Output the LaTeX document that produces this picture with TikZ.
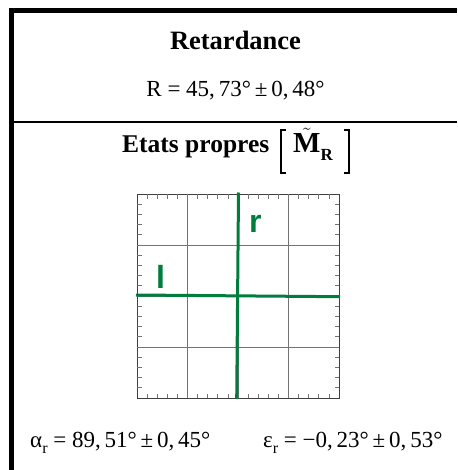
\documentclass[tikz,border=0pt]{standalone}
\usepackage{amsmath}
\usepackage{fontspec}
\setmainfont{Liberation Serif}
\newfontfamily\labelfont{Liberation Sans}
\usetikzlibrary{positioning}
\definecolor{eigengreen}{RGB}{0,125,60}
\newcommand{\subr}[1]{\raisebox{-0.3em}{\fontsize{16}{16}\selectfont #1}}

\begin{document}
\begin{tikzpicture}[x=1pt,y=-1pt,
  txt/.style={font=\fontsize{23}{26}\selectfont,inner sep=0pt},
  ttl/.style={font=\fontsize{26.5}{30}\selectfont\bfseries,inner sep=0pt},
  gridline/.style={black!55,line width=0.8pt},
  tick/.style={black!55,line width=0.8pt},
  eig/.style={eigengreen,line width=3pt},
  eiglabel/.style={eigengreen,font=\fontsize{32}{32}\selectfont\labelfont\bfseries,inner sep=0pt}]
  \useasboundingbox (0,0) rectangle (457,470);
  % frame
  \draw[line width=5pt] (11.5,470) -- (11.5,8);
  \draw[line width=4.5pt] (9,10.3) -- (457,10.3);
  \draw[line width=2pt] (14,122.5) -- (457,122.5);
  % retardance
  \node[ttl,anchor=base] (title) at (235.5,50) {Retardance};
  \node[txt,anchor=base] (retval) at (235.5,97) {R = 45,\,73°\,±\,0,\,48°};
  % eigenstates header
  \node[ttl,font=\fontsize{25.5}{30}\selectfont\bfseries,anchor=base west] (etats) at (122,153) {Etats propres};
  \node[anchor=base west,inner sep=0pt,font=\fontsize{29}{30}\selectfont\bfseries] (mr) at (293,153)
    {$\tilde{\text{M}}$\raisebox{-0.25em}{\fontsize{17}{17}\selectfont R}};
  \draw[line width=1.1pt] (286,130) -- (281,130) -- (281,173) -- (286,173);
  \draw[line width=1.1pt] (344,130) -- (349,130) -- (349,173) -- (344,173);
  % grid
  \foreach \i in {1,2,3} {
    \draw[gridline] (137+50.5*\i,194) -- (137+50.5*\i,398);
    \draw[gridline] (137,194+51*\i) -- (339,194+51*\i);
  }
  \draw[black!75,line width=1pt] (137,194) rectangle (339,398);
  % ticks
  \foreach \k in {1,...,19} {
    \draw[tick] (137+10.1*\k,194) -- ++(0,4.5);
    \draw[tick] (137+10.1*\k,398) -- ++(0,-4.5);
    \draw[tick] (137,194+10.2*\k) -- ++(4.5,0);
    \draw[tick] (339,194+10.2*\k) -- ++(-4.5,0);
  }
  % eigen axes
  \draw[eig] (136,295) -- (340,296.7);
  \draw[eig] (238.5,192.5) -- (236.7,399);
  \node[eiglabel,anchor=base west] (lr) at (249,232) {r};
  \node[eiglabel,anchor=base west] (ll) at (156,288) {l};
  % ellipticity / azimuth
  \node[txt,anchor=base west] (alpha) at (30,447) {α\subr{r} = 89,\,51°\,±\,0,\,45°};
  \node[txt,anchor=base west] (eps) at (263,447) {ε\subr{r} = −0,\,23°\,±\,0,\,53°};
\end{tikzpicture}
\end{document}
